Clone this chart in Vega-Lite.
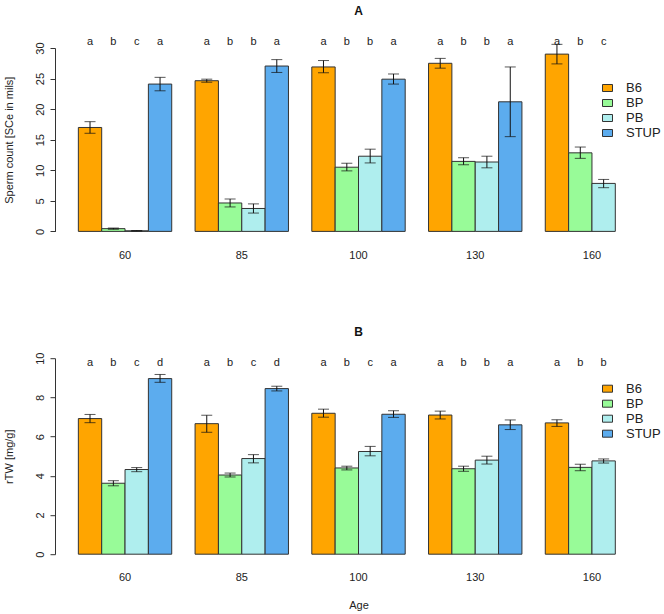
{
  "$schema": "https://vega.github.io/schema/vega-lite/v6.json",
  "background": "white",
  "padding": {"left": 3, "top": 5, "right": 0, "bottom": 0},
  "config": {
    "font": "Liberation Sans",
    "view": {"stroke": null},
    "axis": {"grid": false, "labelFont": "Liberation Sans", "titleFont": "Liberation Sans", "labelColor": "#222", "titleColor": "#222", "domainColor": "#333", "tickColor": "#333", "labelFontSize": 11, "titleFontSize": 11, "titleFontWeight": "normal"},
    "axisY": {"tickSize": 5, "labelPadding": 5, "labelOverlap": false, "labelFlush": false, "titleX": -45.7, "titleBaseline": "middle", "labelAngle": -90, "labelAlign": "center", "labelBaseline": "bottom"},
    "legend": {"labelFont": "Liberation Sans", "labelFontSize": 13, "labelColor": "#222"},
    "title": {"font": "Liberation Sans", "fontSize": 12, "fontWeight": "bold", "color": "#111"}
  },
  "datasets": {
    "sperm": [
      {"age": "60", "group": "B6", "mean": 17.0, "lo": 16.05, "hi": 17.95, "letter": "a"},
      {"age": "60", "group": "BP", "mean": 0.45, "lo": 0.35, "hi": 0.55, "letter": "b"},
      {"age": "60", "group": "PB", "mean": 0.1, "lo": 0.05, "hi": 0.15, "letter": "c"},
      {"age": "60", "group": "STUP", "mean": 24.1, "lo": 23.0, "hi": 25.2, "letter": "a"},
      {"age": "85", "group": "B6", "mean": 24.65, "lo": 24.4, "hi": 24.9, "letter": "a"},
      {"age": "85", "group": "BP", "mean": 4.65, "lo": 4.0, "hi": 5.3, "letter": "b"},
      {"age": "85", "group": "PB", "mean": 3.75, "lo": 3.0, "hi": 4.5, "letter": "b"},
      {"age": "85", "group": "STUP", "mean": 27.05, "lo": 26.0, "hi": 28.1, "letter": "a"},
      {"age": "100", "group": "B6", "mean": 26.9, "lo": 25.95, "hi": 27.95, "letter": "a"},
      {"age": "100", "group": "BP", "mean": 10.5, "lo": 9.9, "hi": 11.15, "letter": "b"},
      {"age": "100", "group": "PB", "mean": 12.3, "lo": 11.2, "hi": 13.45, "letter": "b"},
      {"age": "100", "group": "STUP", "mean": 24.9, "lo": 24.1, "hi": 25.75, "letter": "a"},
      {"age": "130", "group": "B6", "mean": 27.5, "lo": 26.7, "hi": 28.3, "letter": "a"},
      {"age": "130", "group": "BP", "mean": 11.45, "lo": 10.9, "hi": 12.05, "letter": "b"},
      {"age": "130", "group": "PB", "mean": 11.35, "lo": 10.4, "hi": 12.3, "letter": "b"},
      {"age": "130", "group": "STUP", "mean": 21.2, "lo": 15.5, "hi": 26.9, "letter": "a"},
      {"age": "160", "group": "B6", "mean": 29.0, "lo": 27.4, "hi": 30.6, "letter": "a"},
      {"age": "160", "group": "BP", "mean": 12.85, "lo": 11.95, "hi": 13.8, "letter": "b"},
      {"age": "160", "group": "PB", "mean": 7.85, "lo": 7.15, "hi": 8.5, "letter": "c"}
    ],
    "rtw": [
      {"age": "60", "group": "B6", "mean": 6.92, "lo": 6.71, "hi": 7.13, "letter": "a"},
      {"age": "60", "group": "BP", "mean": 3.62, "lo": 3.49, "hi": 3.75, "letter": "b"},
      {"age": "60", "group": "PB", "mean": 4.32, "lo": 4.21, "hi": 4.42, "letter": "c"},
      {"age": "60", "group": "STUP", "mean": 8.96, "lo": 8.77, "hi": 9.17, "letter": "d"},
      {"age": "85", "group": "B6", "mean": 6.66, "lo": 6.22, "hi": 7.09, "letter": "a"},
      {"age": "85", "group": "BP", "mean": 4.04, "lo": 3.94, "hi": 4.14, "letter": "b"},
      {"age": "85", "group": "PB", "mean": 4.88, "lo": 4.66, "hi": 5.08, "letter": "c"},
      {"age": "85", "group": "STUP", "mean": 8.45, "lo": 8.33, "hi": 8.57, "letter": "d"},
      {"age": "100", "group": "B6", "mean": 7.19, "lo": 6.99, "hi": 7.4, "letter": "a"},
      {"age": "100", "group": "BP", "mean": 4.4, "lo": 4.3, "hi": 4.49, "letter": "b"},
      {"age": "100", "group": "PB", "mean": 5.24, "lo": 5.02, "hi": 5.5, "letter": "c"},
      {"age": "100", "group": "STUP", "mean": 7.14, "lo": 6.98, "hi": 7.32, "letter": "a"},
      {"age": "130", "group": "B6", "mean": 7.1, "lo": 6.9, "hi": 7.3, "letter": "a"},
      {"age": "130", "group": "BP", "mean": 4.36, "lo": 4.23, "hi": 4.49, "letter": "b"},
      {"age": "130", "group": "PB", "mean": 4.8, "lo": 4.6, "hi": 5.0, "letter": "b"},
      {"age": "130", "group": "STUP", "mean": 6.6, "lo": 6.36, "hi": 6.85, "letter": "a"},
      {"age": "160", "group": "B6", "mean": 6.7, "lo": 6.52, "hi": 6.86, "letter": "a"},
      {"age": "160", "group": "BP", "mean": 4.43, "lo": 4.26, "hi": 4.59, "letter": "b"},
      {"age": "160", "group": "PB", "mean": 4.76, "lo": 4.65, "hi": 4.86, "letter": "b"}
    ]
  },
  "resolve": {"legend": {"color": "independent"}},
  "spacing": 65.2,
  "vconcat": [
    {
      "width": 607,
      "height": 183.4,
      "title": {"text": "A", "anchor": "middle", "frame": "group", "offset": 18},
      "data": {"name": "sperm"},
      "encoding": {
        "x": {"field": "age", "type": "nominal", "sort": ["60", "85", "100", "130", "160"],
              "scale": {"domain": ["60", "85", "100", "130", "160"], "paddingInner": 0.2, "paddingOuter": 0.2},
              "axis": {"title": null, "domain": false, "ticks": false, "labelAngle": 0, "labelPadding": 18}},
        "xOffset": {"field": "group", "type": "nominal", "scale": {"domain": ["B6", "BP", "PB", "STUP"], "paddingInner": 0, "paddingOuter": 0}}
      },
      "layer": [
        {
          "mark": {"type": "bar", "stroke": "#333", "strokeWidth": 1},
          "encoding": {
            "y": {"field": "mean", "type": "quantitative", "scale": {"domain": [0, 30], "nice": false},
                  "axis": {"title": "Sperm count [SCe in mils]", "values": [0, 5, 10, 15, 20, 25, 30], "encode": {"labels": {"update": {"angle": {"value": -90}, "align": {"value": "center"}, "baseline": {"value": "bottom"}}}}}},
            "color": {"field": "group", "type": "nominal",
                      "scale": {"domain": ["B6", "BP", "PB", "STUP"], "range": ["#FFA500", "#98FB98", "#AFEEEE", "#5CACEE"]},
                      "legend": {"title": null, "orient": "none", "legendX": 546, "legendY": 33.5, "symbolType": "M-1,-0.7H1V0.7H-1Z", "symbolSize": 100, "symbolStrokeColor": "#333", "symbolStrokeWidth": 1, "labelOffset": 12, "rowPadding": 1, "padding": 0}}
          }
        },
        {
          "mark": {"type": "rule", "color": "#111", "strokeWidth": 1},
          "encoding": {"y": {"field": "lo", "type": "quantitative", "axis": {"title": "Sperm count [SCe in mils]", "values": [0, 5, 10, 15, 20, 25, 30], "encode": {"labels": {"update": {"angle": {"value": -90}, "align": {"value": "center"}, "baseline": {"value": "bottom"}}}}}}, "y2": {"field": "hi"}}
        },
        {
          "mark": {"type": "tick", "color": "#111", "size": 11, "thickness": 1, "orient": "horizontal"},
          "encoding": {"y": {"field": "lo", "type": "quantitative", "axis": {"title": "Sperm count [SCe in mils]", "values": [0, 5, 10, 15, 20, 25, 30], "encode": {"labels": {"update": {"angle": {"value": -90}, "align": {"value": "center"}, "baseline": {"value": "bottom"}}}}}}}
        },
        {
          "mark": {"type": "tick", "color": "#111", "size": 11, "thickness": 1, "orient": "horizontal"},
          "encoding": {"y": {"field": "hi", "type": "quantitative", "axis": {"title": "Sperm count [SCe in mils]", "values": [0, 5, 10, 15, 20, 25, 30], "encode": {"labels": {"update": {"angle": {"value": -90}, "align": {"value": "center"}, "baseline": {"value": "bottom"}}}}}}}
        },
        {
          "mark": {"type": "text", "fontSize": 11, "color": "#222", "baseline": "middle"},
          "encoding": {"y": {"datum": 30.95, "axis": {"title": "Sperm count [SCe in mils]", "values": [0, 5, 10, 15, 20, 25, 30], "encode": {"labels": {"update": {"angle": {"value": -90}, "align": {"value": "center"}, "baseline": {"value": "bottom"}}}}}}, "text": {"field": "letter"}}
        }
      ]
    },
    {
      "width": 607,
      "height": 196,
      "title": {"text": "B", "anchor": "middle", "frame": "group", "offset": 12.8},
      "data": {"name": "rtw"},
      "encoding": {
        "x": {"field": "age", "type": "nominal", "sort": ["60", "85", "100", "130", "160"],
              "scale": {"domain": ["60", "85", "100", "130", "160"], "paddingInner": 0.2, "paddingOuter": 0.2},
              "axis": {"title": "Age", "domain": false, "ticks": false, "labelAngle": 0, "labelPadding": 17, "titlePadding": 17}},
        "xOffset": {"field": "group", "type": "nominal", "scale": {"domain": ["B6", "BP", "PB", "STUP"], "paddingInner": 0, "paddingOuter": 0}}
      },
      "layer": [
        {
          "mark": {"type": "bar", "stroke": "#333", "strokeWidth": 1},
          "encoding": {
            "y": {"field": "mean", "type": "quantitative", "scale": {"domain": [0, 10], "nice": false},
                  "axis": {"title": "rTW  [mg/g]", "values": [0, 2, 4, 6, 8, 10], "encode": {"labels": {"update": {"angle": {"value": -90}, "align": {"value": "center"}, "baseline": {"value": "bottom"}}}}}},
            "color": {"field": "group", "type": "nominal",
                      "scale": {"domain": ["B6", "BP", "PB", "STUP"], "range": ["#FFA500", "#98FB98", "#AFEEEE", "#5CACEE"]},
                      "legend": {"title": null, "orient": "none", "legendX": 546, "legendY": 24, "symbolType": "M-1,-0.7H1V0.7H-1Z", "symbolSize": 100, "symbolStrokeColor": "#333", "symbolStrokeWidth": 1, "labelOffset": 12, "rowPadding": 1, "padding": 0}}
          }
        },
        {
          "mark": {"type": "rule", "color": "#111", "strokeWidth": 1},
          "encoding": {"y": {"field": "lo", "type": "quantitative", "axis": {"title": "rTW  [mg/g]", "values": [0, 2, 4, 6, 8, 10], "encode": {"labels": {"update": {"angle": {"value": -90}, "align": {"value": "center"}, "baseline": {"value": "bottom"}}}}}}, "y2": {"field": "hi"}}
        },
        {
          "mark": {"type": "tick", "color": "#111", "size": 11, "thickness": 1, "orient": "horizontal"},
          "encoding": {"y": {"field": "lo", "type": "quantitative", "axis": {"title": "rTW  [mg/g]", "values": [0, 2, 4, 6, 8, 10], "encode": {"labels": {"update": {"angle": {"value": -90}, "align": {"value": "center"}, "baseline": {"value": "bottom"}}}}}}}
        },
        {
          "mark": {"type": "tick", "color": "#111", "size": 11, "thickness": 1, "orient": "horizontal"},
          "encoding": {"y": {"field": "hi", "type": "quantitative", "axis": {"title": "rTW  [mg/g]", "values": [0, 2, 4, 6, 8, 10], "encode": {"labels": {"update": {"angle": {"value": -90}, "align": {"value": "center"}, "baseline": {"value": "bottom"}}}}}}}
        },
        {
          "mark": {"type": "text", "fontSize": 11, "color": "#222", "baseline": "middle"},
          "encoding": {"y": {"datum": 9.74, "axis": {"title": "rTW  [mg/g]", "values": [0, 2, 4, 6, 8, 10], "encode": {"labels": {"update": {"angle": {"value": -90}, "align": {"value": "center"}, "baseline": {"value": "bottom"}}}}}}, "text": {"field": "letter"}}
        }
      ]
    }
  ]
}
